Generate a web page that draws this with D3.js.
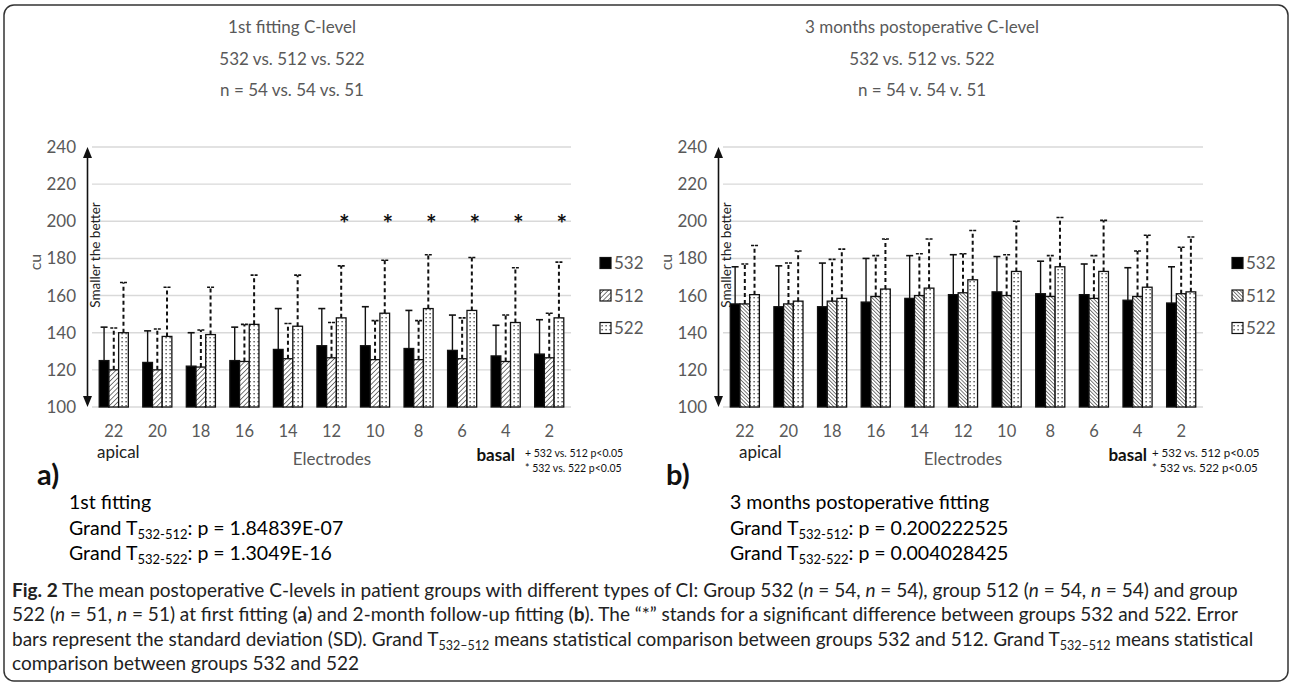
<!DOCTYPE html>
<html>
<head>
  <meta charset="UTF-8">
  <title>Postoperative C-levels</title>
  <script src="https://cdn.jsdelivr.net/npm/d3@7"></script>
  <style>
    body { margin: 0; background: #fff; }
    svg { display: block; }
    .chart text { font-family: Lato, "Open Sans", sans-serif; }
    .gray { fill: #595959; }
    .cap { font-family: Lato, "Noto Sans", sans-serif; fill: #222; }
  </style>
</head>
<body>
<svg id="fig" width="1292" height="683"></svg>
<script>
// electrode labels, apical -> basal
var electrodes = ["22", "20", "18", "16", "14", "12", "10", "8", "6", "4", "2"];
var groups = ["532", "512", "522"];
var yTicks = [100, 120, 140, 160, 180, 200, 220, 240];

// 1st fitting: means and SD
var first532 = [125, 124, 122, 125, 131, 133, 133, 131.5, 130.5, 127.5, 128.5];
var first532sd = [18, 17, 18, 18, 22, 20, 21, 20.5, 19, 16.5, 18.5];
var first512 = [120, 120, 121.5, 124.5, 126, 126.5, 125.5, 125.5, 126, 124.5, 126.5];
var first512sd = [22.5, 22, 20, 20, 19, 19, 21, 21, 22, 25, 24];
var first522 = [140, 138, 139, 144.5, 143.5, 148, 150.5, 153, 152, 145.5, 148];
var first522sd = [27, 26.5, 25.5, 26.5, 27.5, 28, 28.5, 29, 28.5, 29.5, 30];
// "*" 532 vs 522 significant
var firstStar = [0, 0, 0, 0, 0, 1, 1, 1, 1, 1, 1];

// 3 months postoperative: means and SD
var post532 = [155.5, 154, 154, 156.5, 158.5, 160.5, 162, 161, 160.5, 157.5, 156];
var post532sd = [20, 22, 23.5, 23.5, 23, 21.5, 19, 17.5, 16.5, 17.5, 19.5];
var post512 = [155.5, 155.5, 157, 159.5, 160, 161.5, 160, 159.5, 158.5, 159.5, 161];
var post512sd = [21.5, 22, 22.5, 22, 22.5, 21, 22, 22, 23, 24.5, 25];
var post522 = [160.5, 157, 158.5, 163.5, 164, 168.5, 173, 175.5, 173, 164.5, 162];
var post522sd = [26.5, 27, 26.5, 27, 26.5, 26.5, 27, 26.5, 27.5, 28, 29.5];
var postStar = [0, 0, 0, 0, 0, 0, 0, 0, 0, 0, 0];

var svg = d3.select("#fig");

// frame
svg.append("rect")
  .attr("x", 4).attr("y", 5).attr("width", 1284).attr("height", 676)
  .attr("rx", 10)
  .attr("fill", "none").attr("stroke", "#333").attr("stroke-width", 1.5);

// fill patterns
var defs = svg.append("defs");
function hatch(id, dir, gap) {
  var p = defs.append("pattern").attr("id", id)
    .attr("patternUnits", "userSpaceOnUse")
    .attr("width", gap).attr("height", gap)
    .attr("patternTransform", "rotate(" + (dir > 0 ? 45 : -45) + ")");
  p.append("rect").attr("width", gap).attr("height", gap).attr("fill", "#fff");
  p.append("line").attr("x1", 0).attr("y1", 0).attr("x2", 0).attr("y2", gap)
    .attr("stroke", "#222").attr("stroke-width", 1.2);
}
hatch("hatchA", 1, 3.4);
hatch("hatchB", -1, 2.6);
var dots = defs.append("pattern").attr("id", "dots")
  .attr("patternUnits", "userSpaceOnUse").attr("width", 4).attr("height", 4);
dots.append("rect").attr("width", 4).attr("height", 4).attr("fill", "#fff");
dots.append("rect").attr("x", 1.5).attr("y", 1).attr("width", 1.2).attr("height", 1.4).attr("fill", "#333");

function drawPanel(p) {
  var g = svg.append("g").attr("class", "chart");

  var x = d3.scaleBand().domain(electrodes).range([p.x0, p.x1]).padding(0);
  var y = d3.scaleLinear().domain([100, 240]).range([407, 147]);
  var bw = 9.7;
  var off = (x.bandwidth() - 3 * bw) / 2;

  // titles
  g.selectAll(".title").data(p.title).enter().append("text")
    .attr("class", "gray")
    .attr("x", p.tx).attr("y", function(d, i) { return 33 + i * 31.5; })
    .attr("text-anchor", "middle").attr("font-size", 17)
    .text(function(d) { return d; });

  // gridlines
  g.append("g").selectAll("line").data(yTicks).enter().append("line")
    .attr("x1", p.x0).attr("x2", p.x1)
    .attr("y1", function(d) { return y(d); }).attr("y2", function(d) { return y(d); })
    .attr("stroke", "#d9d9d9").attr("stroke-width", 1.4);

  // y axis labels
  var ya = g.append("g").attr("transform", "translate(" + (p.x0 - 16) + ",0)")
    .call(d3.axisLeft(y).tickValues(yTicks).tickSize(0).tickPadding(0));
  ya.select(".domain").remove();
  ya.selectAll("text").attr("class", "gray").attr("font-size", 17)
    .style("font-family", "Lato, 'Open Sans', sans-serif");

  // x axis labels
  var xa = g.append("g").attr("transform", "translate(0,407)")
    .call(d3.axisBottom(x).tickSize(0).tickPadding(18));
  xa.select(".domain").remove();
  xa.selectAll("text").attr("class", "gray").attr("font-size", 16.5)
    .style("font-family", "Lato, 'Open Sans', sans-serif");

  // y title
  g.append("text").attr("class", "gray")
    .attr("transform", "translate(" + (p.x0 - 51) + ",262) rotate(-90)")
    .attr("text-anchor", "middle").attr("font-size", 16).text("cu");

  // double arrow
  var ax = p.x0 - 4.5;
  g.append("line").attr("x1", ax).attr("x2", ax).attr("y1", 156).attr("y2", 398)
    .attr("stroke", "#111").attr("stroke-width", 1.6);
  g.append("path").attr("d", "M" + (ax - 4.5) + ",158 L" + ax + ",147 L" + (ax + 4.5) + ",158 Z").attr("fill", "#111");
  g.append("path").attr("d", "M" + (ax - 4.5) + ",396 L" + ax + ",407 L" + (ax + 4.5) + ",396 Z").attr("fill", "#111");
  g.append("text").attr("fill", "#222")
    .attr("transform", "translate(" + (ax + 12.5) + ",255) rotate(-90)")
    .attr("text-anchor", "middle").attr("font-size", 13.5).text("Smaller the better");

  // bars
  var fills = ["#000", p.hatch, "url(#dots)"];
  p.series.forEach(function(s, k) {
    var xs = function(i) { return x(electrodes[i]) + off + k * bw; };
    g.append("g").selectAll("rect").data(s.mean).enter().append("rect")
      .attr("x", function(d, i) { return xs(i); })
      .attr("y", function(d) { return y(d); })
      .attr("width", bw).attr("height", function(d) { return y(100) - y(d); })
      .attr("fill", fills[k]).attr("stroke", "#111").attr("stroke-width", 1.3);

    // error bars
    var eb = g.append("g").selectAll("g").data(s.mean).enter().append("g");
    eb.append("line")
      .attr("x1", function(d, i) { return xs(i) + bw / 2; })
      .attr("x2", function(d, i) { return xs(i) + bw / 2; })
      .attr("y1", function(d) { return y(d); })
      .attr("y2", function(d, i) { return y(d + s.sd[i]); })
      .attr("stroke", "#111").attr("stroke-width", k === 0 ? 1.4 : 2)
      .attr("stroke-dasharray", k === 0 ? null : "4,3");
    eb.append("line")
      .attr("x1", function(d, i) { return xs(i) + bw / 2 - 3.5; })
      .attr("x2", function(d, i) { return xs(i) + bw / 2 + 3.5; })
      .attr("y1", function(d, i) { return y(d + s.sd[i]); })
      .attr("y2", function(d, i) { return y(d + s.sd[i]); })
      .attr("stroke", "#111").attr("stroke-width", 1.6)
      .attr("stroke-dasharray", k === 0 ? null : "3,1");
  });

  // significance stars
  var starIdx = [];
  p.star.forEach(function(d, i) { if (d) starIdx.push(i); });
  g.append("g").selectAll("text").data(starIdx).enter().append("text")
    .attr("x", function(i) { return x(electrodes[i]) + off + 2.5 * bw + 3; })
    .attr("y", y(202) + 15)
    .attr("text-anchor", "middle").attr("font-size", 25).attr("font-weight", "bold").attr("fill", "#111")
    .text("*");

  // legend
  var lg = g.append("g").attr("transform", "translate(" + p.lx + ",0)");
  groups.forEach(function(name, k) {
    var ly = 263 + k * 32.5;
    lg.append("rect").attr("x", 0).attr("y", ly - 5.5).attr("width", 11).attr("height", 11)
      .attr("fill", fills[k]).attr("stroke", "#111").attr("stroke-width", 1.2);
    lg.append("text").attr("class", "gray").attr("x", 14).attr("y", ly + 6)
      .attr("font-size", 17).text(name);
  });

  // under-axis labels
  g.append("text").attr("x", p.x0 + p.apX).attr("y", 458).attr("font-size", 17).attr("fill", "#222").text("apical");
  g.append("text").attr("class", "gray").attr("x", p.elX).attr("y", 465)
    .attr("text-anchor", "middle").attr("font-size", 17).text("Electrodes");
  g.append("text").attr("x", p.basalEnd).attr("y", 461).attr("text-anchor", "end")
    .attr("font-size", 17).attr("font-weight", "bold").attr("fill", "#111").text("basal");
  g.append("text").attr("x", p.noteX).attr("y", 457).attr("font-size", p.noteSize).attr("fill", "#111").text("+ 532 vs. 512 p<0.05");
  g.append("text").attr("x", p.noteX).attr("y", 472).attr("font-size", p.noteSize).attr("fill", "#111").text("* 532 vs. 522 p<0.05");

  // panel letter and stats
  g.append("text").attr("x", p.letterX).attr("y", 485).attr("font-size", 29).attr("font-weight", "bold")
    .attr("fill", "#111").text(p.letter);
  var st = g.append("g").attr("fill", "#000").attr("font-size", 19.5);
  st.append("text").attr("x", p.sx).attr("y", 509).text(p.statTitle);
  p.stats.forEach(function(s, i) {
    var t = st.append("text").attr("x", p.sx).attr("y", 535 + i * 25);
    t.append("tspan").text("Grand T");
    t.append("tspan").attr("font-size", 13).attr("dy", 4).text(s[0]);
    t.append("tspan").attr("dy", -4).text(": p = " + s[1]);
  });
}

drawPanel({
  x0: 92, x1: 571, tx: 292, lx: 600,
  title: ["1st fitting C-level", "532 vs. 512 vs. 522", "n = 54 vs. 54 vs. 51"],
  hatch: "url(#hatchA)",
  series: [{ mean: first532, sd: first532sd }, { mean: first512, sd: first512sd }, { mean: first522, sd: first522sd }],
  star: firstStar,
  apX: 5, elX: 332, basalEnd: 515, noteX: 525, noteSize: 10.5,
  letter: "a)", letterX: 37, sx: 69, statTitle: "1st fitting",
  stats: [["532-512", "1.84839E-07"], ["532-522", "1.3049E-16"]]
});

drawPanel({
  x0: 723, x1: 1203, tx: 922, lx: 1232,
  title: ["3 months postoperative C-level", "532 vs. 512 vs. 522", "n = 54 v. 54 v. 51"],
  hatch: "url(#hatchB)",
  series: [{ mean: post532, sd: post532sd }, { mean: post512, sd: post512sd }, { mean: post522, sd: post522sd }],
  star: postStar,
  apX: 16, elX: 963, basalEnd: 1147, noteX: 1152, noteSize: 11.5,
  letter: "b)", letterX: 666, sx: 730, statTitle: "3 months postoperative fitting",
  stats: [["532-512", "0.200222525"], ["532-522", "0.004028425"]]
});

// caption
var cap = svg.append("g").attr("class", "cap").attr("font-size", 19);
var l1 = cap.append("text").attr("x", 12).attr("y", 597);
l1.append("tspan").attr("font-weight", "bold").text("Fig. 2");
l1.append("tspan").text(" The mean postoperative C-levels in patient groups with different types of CI: Group 532 (");
l1.append("tspan").attr("font-style", "italic").text("n");
l1.append("tspan").text(" = 54, ");
l1.append("tspan").attr("font-style", "italic").text("n");
l1.append("tspan").text(" = 54), group 512 (");
l1.append("tspan").attr("font-style", "italic").text("n");
l1.append("tspan").text(" = 54, ");
l1.append("tspan").attr("font-style", "italic").text("n");
l1.append("tspan").text(" = 54) and group");

var l2 = cap.append("text").attr("x", 12).attr("y", 621);
l2.append("tspan").text("522 (");
l2.append("tspan").attr("font-style", "italic").text("n");
l2.append("tspan").text(" = 51, ");
l2.append("tspan").attr("font-style", "italic").text("n");
l2.append("tspan").text(" = 51) at first fitting (");
l2.append("tspan").attr("font-weight", "bold").text("a");
l2.append("tspan").text(") and 2-month follow-up fitting (");
l2.append("tspan").attr("font-weight", "bold").text("b");
l2.append("tspan").text("). The \u201c*\u201d stands for a significant difference between groups 532 and 522. Error");

var l3 = cap.append("text").attr("x", 12).attr("y", 646);
l3.append("tspan").text("bars represent the standard deviation (SD). Grand T");
l3.append("tspan").attr("font-size", 12.5).attr("dy", 4).text("532\u2013512");
l3.append("tspan").attr("dy", -4).text(" means statistical comparison between groups 532 and 512. Grand T");
l3.append("tspan").attr("font-size", 12.5).attr("dy", 4).text("532\u2013512");
l3.append("tspan").attr("dy", -4).text(" means statistical");

cap.append("text").attr("x", 12).attr("y", 670).text("comparison between groups 532 and 522");
</script>
</body>
</html>
